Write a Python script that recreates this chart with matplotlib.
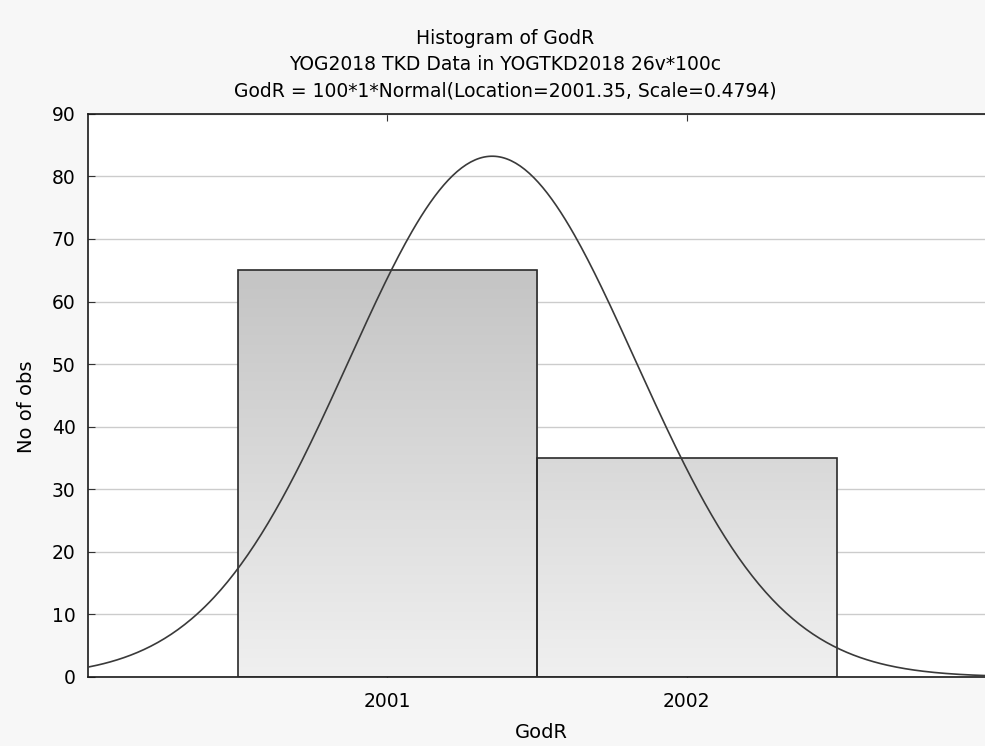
import numpy as np
import matplotlib.pyplot as plt
from matplotlib.colors import LinearSegmentedColormap

plt.rcParams['font.family'] = ['DejaVu Sans']

# histogram counts per year of birth
bin_centers = [2001, 2002]
counts = [65, 35]
bin_width = 1.0

# fitted normal curve (from the title)
n_total = 100
fit_loc = 2001.35
fit_scale = 0.4794

title_lines = ["Histogram of GodR",
               "YOG2018 TKD Data in YOGTKD2018 26v*100c",
               "GodR = 100*1*Normal(Location=2001.35, Scale=0.4794)"]
y_ticks = [0, 10, 20, 30, 40, 50, 60, 70, 80, 90]
x_ticks = [2001, 2002]

fig = plt.figure(figsize=(9.85, 7.46), dpi=100, facecolor='#f7f7f7')
ax = fig.add_axes([0.0893, 0.0925, 0.912, 0.755])
ax.set_facecolor('white')

xmin, xmax = 2000.0, 2003.0
ymin, ymax = 0, 90

ax.set_axisbelow(True)
ax.yaxis.grid(True, color='#cccccc', linewidth=1)

bars = ax.bar(bin_centers, counts, width=bin_width, color='none',
              edgecolor='#2a2a2a', linewidth=1.2, zorder=3)

# vertical gray gradient, darker toward the top, clipped to each bar
cmap = LinearSegmentedColormap.from_list('barfade', ['#f0f0f0', '#c4c4c4'])
grad = np.linspace(0, 1, 256).reshape(-1, 1)
for b in bars:
    im = ax.imshow(grad, extent=[xmin, xmax, 0, max(counts)], origin='lower',
                   aspect='auto', cmap=cmap, vmin=0, vmax=1, zorder=2)
    im.set_clip_path(b)

xs = np.linspace(xmin, xmax, 400)
pdf = n_total * bin_width / (fit_scale * np.sqrt(2 * np.pi)) * \
    np.exp(-0.5 * ((xs - fit_loc) / fit_scale) ** 2)
ax.plot(xs, pdf, color='#3a3a3a', linewidth=1.2, zorder=4)

ax.set_xlim(xmin, xmax)
ax.set_ylim(ymin, ymax)
ax.set_xticks(x_ticks)
ax.set_xticklabels([str(t) for t in x_ticks])
ax.set_yticks(y_ticks)

ax.tick_params(axis='x', direction='in', length=5, top=True, labelsize=13.5,
               pad=10.5, color='#333333')
ax.tick_params(axis='y', direction='in', length=5, labelsize=13.5,
               color='#333333', pad=9)

for side in ['left', 'bottom', 'top']:
    ax.spines[side].set_color('#1a1a1a')
    ax.spines[side].set_linewidth(1.2)
ax.spines['right'].set_visible(False)

ax.set_xlabel('GodR', fontsize=14)
ax.xaxis.set_label_coords(0.505, -0.082)
ax.set_ylabel('No of obs', fontsize=14)
ax.yaxis.set_label_coords(-0.058, 0.48)

title_y = [0.948, 0.913, 0.878]
for line, ty in zip(title_lines, title_y):
    fig.text(0.513, ty, line, ha='center', va='center', fontsize=13.5)

fig.savefig('out.png', dpi=100, facecolor=fig.get_facecolor())
